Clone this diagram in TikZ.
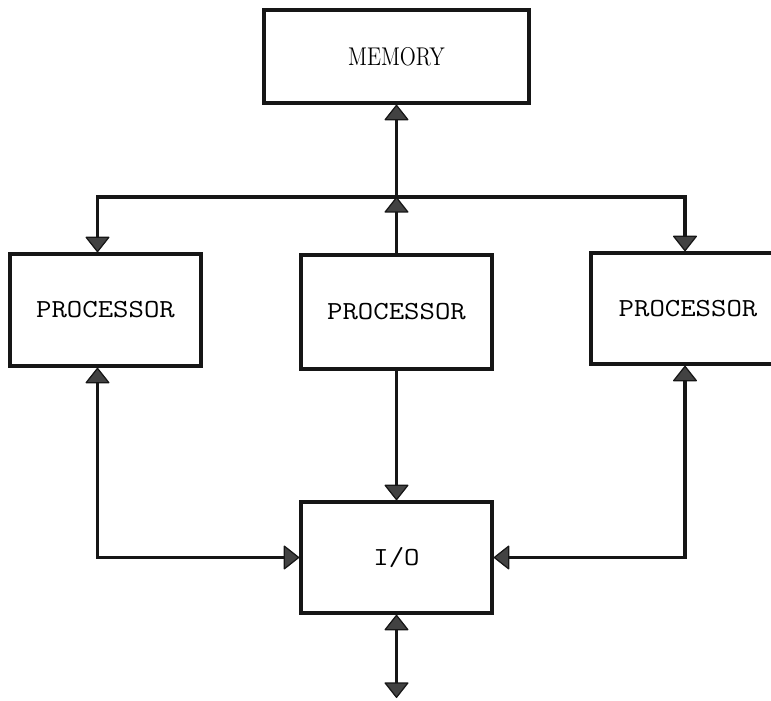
\documentclass[tikz,border=0pt]{standalone}
\usepackage{tikz}
\usetikzlibrary{arrows.meta}
\definecolor{inkgray}{HTML}{161616}
\definecolor{tipgray}{HTML}{424242}
\tikzset{
  unit/.style={draw=inkgray,line width=1.9pt,minimum width=3.82cm,minimum height=2.24cm,inner sep=0pt},
  link/.style={draw=inkgray,line width=1.9pt},
  >={Triangle[width=0.5cm,length=0.32cm,fill=tipgray,line width=0.7pt,round]}
}
\newcommand{\ttlabel}[1]{\scalebox{1.15}[1]{\fontsize{14.8}{16}\selectfont\ttfamily #1}}
\newcommand{\rmlabel}[1]{\scalebox{0.82}[1]{\fontsize{14.6}{16}\selectfont #1}}

\begin{document}
\begin{tikzpicture}
\useasboundingbox (0,0) rectangle (15.42,14);
% boxes
\node[unit,minimum width=5.3cm,minimum height=1.86cm] (memory) at (7.93,12.87) {\rmlabel{MEMORY}};
\node[unit] (procL) at (2.11,7.8) {\ttlabel{PROCESSOR}};
\node[unit,minimum height=2.28cm] (procC) at (7.93,7.76) {\ttlabel{PROCESSOR}};
\node[unit,minimum width=3.88cm,minimum height=2.22cm] (procR) at (13.76,7.83) {\ttlabel{PROCESSOR}};
\node[unit,minimum height=2.22cm] (io) at (7.93,2.85) {\ttlabel{I/O}};
% bus
\coordinate (busC) at (7.93,10.06);
\coordinate (busL) at (1.95,10.06);
\coordinate (busR) at (13.70,10.06);
\coordinate (ioOut) at (7.93,0.04);
\draw[link,->] (procC.north) -- (busC);
\draw[link,->] (busC) -- (memory.south);
\draw[link,->] (busC) -- (busL) -- (busL |- procL.north);
\draw[link,->] (busC) -- (busR) -- (busR |- procR.north);
% i/o side
\draw[link,->] (procC.south) -- (io.north);
\draw[link,<->] (busL |- procL.south) |- (io.west);
\draw[link,<->] (busR |- procR.south) |- (io.east);
\draw[link,<->] (io.south) -- (ioOut);
\end{tikzpicture}
\end{document}
